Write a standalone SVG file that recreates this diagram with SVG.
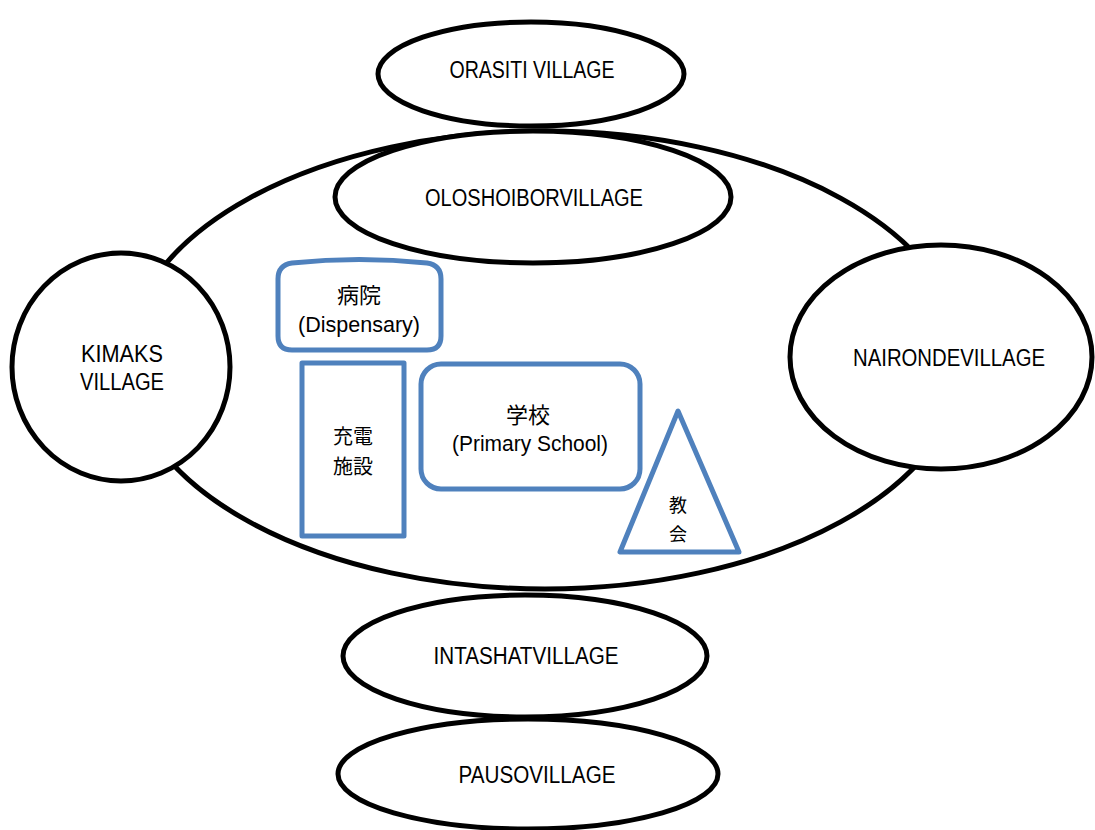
<svg xmlns="http://www.w3.org/2000/svg" width="1095" height="830" viewBox="0 0 1095 830">
  <style>
    .area { fill: none; stroke: #000; stroke-width: 5; }
    .village { fill: #fff; stroke: #000; stroke-width: 5; }
    .facility { fill: #fff; stroke: #4F81BD; stroke-width: 5; stroke-linejoin: round; }
    .lbl { font-family: "Liberation Sans", Arial, sans-serif; font-size: 23px; fill: #000; text-anchor: middle; }
    .en { font-family: "Liberation Sans", Arial, sans-serif; font-size: 22px; fill: #000; text-anchor: middle; }
    .jp { font-family: "Noto Sans CJK JP", sans-serif; font-size: 22px; fill: #000; text-anchor: middle; }
  </style>

  <!-- central community area -->
  <g id="area">
    <ellipse class="area" cx="545" cy="360" rx="418" ry="229"/>
  </g>

  <!-- surrounding villages -->
  <g id="orasiti">
    <ellipse class="village" cx="531" cy="74" rx="153" ry="52"/>
    <text class="lbl" x="532" y="78" textLength="165" lengthAdjust="spacingAndGlyphs">ORASITI VILLAGE</text>
  </g>
  <g id="oloshoibor">
    <ellipse class="village" cx="533" cy="197" rx="198" ry="66"/>
    <text class="lbl" x="534" y="206" textLength="218" lengthAdjust="spacingAndGlyphs">OLOSHOIBORVILLAGE</text>
  </g>
  <g id="kimaks">
    <ellipse class="village" cx="121" cy="367" rx="109" ry="114"/>
    <text class="lbl" x="122" y="362" textLength="82" lengthAdjust="spacingAndGlyphs">KIMAKS</text>
    <text class="lbl" x="122" y="390" textLength="84" lengthAdjust="spacingAndGlyphs">VILLAGE</text>
  </g>
  <g id="naironde">
    <ellipse class="village" cx="941" cy="357" rx="151" ry="112"/>
    <text class="lbl" x="949" y="366" textLength="192" lengthAdjust="spacingAndGlyphs">NAIRONDEVILLAGE</text>
  </g>
  <g id="intashat">
    <ellipse class="village" cx="525" cy="656" rx="182" ry="61"/>
    <text class="lbl" x="526" y="664" textLength="185" lengthAdjust="spacingAndGlyphs">INTASHATVILLAGE</text>
  </g>
  <g id="pauso">
    <ellipse class="village" cx="528" cy="774" rx="190" ry="55"/>
    <text class="lbl" x="537" y="783" textLength="157" lengthAdjust="spacingAndGlyphs">PAUSOVILLAGE</text>
  </g>

  <!-- facilities -->
  <g id="dispensary">
    <path class="facility" d="M292,263 Q359,256 427,263 Q441,265 441,279 L441,336 Q441,350 427,350 L292,350 Q278,350 278,336 L278,279 Q278,265 292,263 Z"/>
    <text class="jp" x="359" y="303">病院</text>
    <text class="en" x="359" y="332" textLength="122" lengthAdjust="spacingAndGlyphs">(Dispensary)</text>
  </g>
  <g id="charging">
    <rect class="facility" x="302" y="363" width="102" height="173"/>
    <text class="jp" x="353" y="444" style="font-size:20px">充電</text>
    <text class="jp" x="353" y="474" style="font-size:20px">施設</text>
  </g>
  <g id="school">
    <rect class="facility" x="421" y="364" width="219" height="125" rx="20" ry="20"/>
    <text class="jp" x="528" y="423">学校</text>
    <text class="en" x="530" y="451" textLength="156" lengthAdjust="spacingAndGlyphs">(Primary School)</text>
  </g>
  <g id="church">
    <polygon class="facility" points="678,411 620,552 739,552"/>
    <text class="jp" x="678" y="512" style="font-size:18px">教</text>
    <text class="jp" x="678" y="541" style="font-size:18px">会</text>
  </g>

  <!-- connectors: none in this layout -->
  <g id="connectors"/>
</svg>
